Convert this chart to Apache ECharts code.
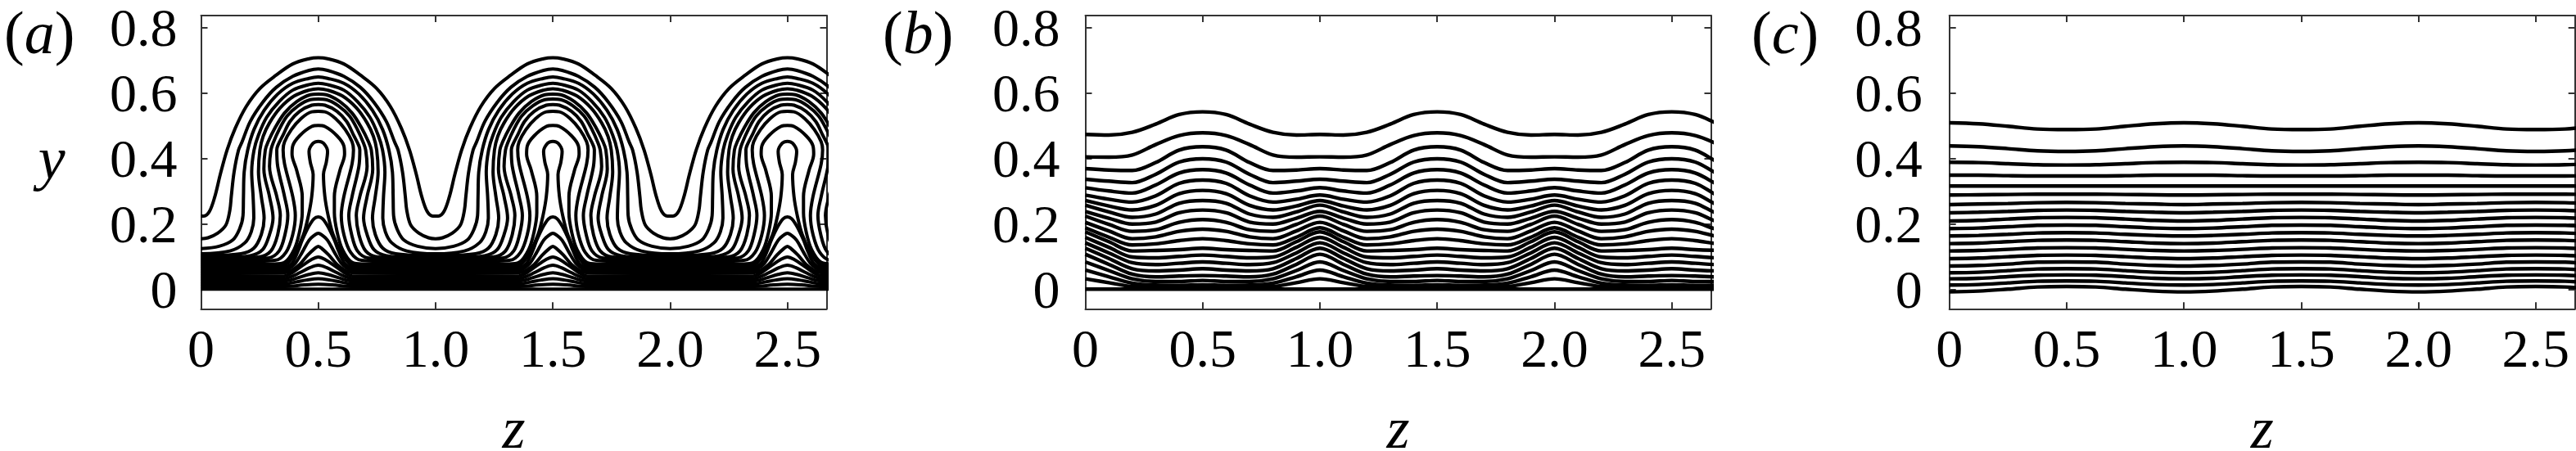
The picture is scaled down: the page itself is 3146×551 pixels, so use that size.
<!DOCTYPE html>
<html>
<head>
<meta charset="utf-8">
<script src="https://cdn.jsdelivr.net/npm/echarts@6/dist/echarts.min.js"></script>
<style>
  html, body { margin: 0; padding: 0; background: #fff; }
  #chart { width: 3146px; height: 551px; }
</style>
</head>
<body>
<div id="chart"></div>
<script>
const zTicks = [0, 0.5, 1, 1.5, 2, 2.5]
const yTicks = [0, 0.2, 0.4, 0.6, 0.8]
const panelNames = ['a', 'b', 'c']

// panel a: one half period, z from 0.5 to 1
const contoursA = [
  [[.5,.707],[.5395,.704],[.609,.688],[.679,.654],[.749,.613],[.807,.5583],[.854,.4917],[.889,.425],[.918,.35],[.941,.283],[.964,.2375],[.988,.2233],[1,.2233]],
  [[.5,.6725],[.5395,.6683],[.609,.65],[.679,.6167],[.737,.571],[.79,.5125],[.825,.45],[.84,.425],[.859,.358],[.871,.283],[.877,.2417],[.894,.196],[.929,.171],[.97,.157],[1,.154]],
  [[.5,.648],[.5395,.644],[.609,.629],[.673,.596],[.731,.546],[.774,.488],[.801,.425],[.816,.358],[.819,.283],[.821,.225],[.836,.1833],[.865,.15],[.923,.131],[1,.124]],
  [[.5,.629],[.5395,.625],[.609,.608],[.667,.573],[.72,.525],[.755,.471],[.774,.425],[.784,.358],[.778,.283],[.775,.217],[.786,.175],[.813,.1417],[.877,.1167],[1,.108]],
  [[.5,.612],[.5395,.608],[.603,.59],[.662,.554],[.708,.508],[.735,.467],[.749,.425],[.755,.358],[.743,.283],[.731,.217],[.743,.167],[.775,.125],[.83,.1083],[1,.1025]],
  [[.5,.596],[.534,.594],[.592,.573],[.644,.538],[.685,.492],[.714,.45],[.726,.425],[.732,.367],[.708,.283],[.693,.217],[.708,.167],[.737,.121],[.79,.102],[.865,.098],[1,.097]],
  [[.5,.581],[.534,.579],[.586,.56],[.633,.529],[.667,.4875],[.693,.446],[.702,.425],[.708,.375],[.677,.283],[.662,.225],[.673,.167],[.702,.1167],[.755,.098],[1,.0915]],
  [[.5,.564],[.528,.562],[.58,.543],[.621,.512],[.65,.471],[.673,.438],[.677,.425],[.673,.375],[.644,.283],[.63,.225],[.642,.167],[.667,.1167],[.714,.095],[1,.086]],
  [[.5,.543],[.528,.5417],[.574,.521],[.615,.4875],[.644,.45],[.65,.425],[.644,.383],[.609,.283],[.598,.225],[.609,.167],[.638,.1125],[.685,.088],[1,.0805]],
  [[.5,.5],[.528,.497],[.58,.4683],[.609,.4375],[.612,.4125],[.592,.3625],[.5685,.283],[.5685,.233],[.58,.175],[.603,.121],[.644,.082],[.691,.077],[1,.075]],
  [[.5,.4517],[.522,.446],[.5395,.421],[.534,.3875],[.522,.35],[.528,.283],[.542,.225],[.563,.167],[.598,.1125],[.638,.075],[.679,.07],[1,.0695]],
  [[.5,.2207],[.5185,.215],[.542,.19],[.5685,.15],[.586,.117],[.612,.079],[.638,.066],[.656,.064],[1,.064]],
  [[.5,.171],[.516,.165],[.539,.15],[.5685,.113],[.598,.079],[.627,.062],[.644,.057],[1,.056]],
  [[.5,.131],[.516,.1235],[.545,.104],[.58,.075],[.615,.057],[.644,.05],[1,.048]],
  [[.5,.098],[.53,.09],[.57,.071],[.61,.051],[.644,.041],[1,.04]],
  [[.5,.073],[.535,.066],[.58,.05],[.62,.037],[.65,.032],[1,.032]],
  [[.5,.05],[.54,.045],[.59,.034],[.63,.026],[.655,.024],[1,.024]],
  [[.5,.032],[.55,.028],[.6,.021],[.65,.016],[1,.016]],
  [[.5,.015],[.56,.013],[.62,.009],[.66,.008],[1,.008]],
  [[.5,0],[1,0]]
]

// panel b: y of each line at zSamplesB, half a period
const zSamplesB = [0, .1, .2, .3, .4, .5]
const linesB = [
  [.4725,.4708,.4792,.5042,.5333,.5417],
  [.4042,.4033,.41,.4417,.4692,.4775],
  [.3683,.364,.3625,.387,.425,.435],
  [.3358,.33,.3255,.351,.3883,.3983],
  [.31,.3,.2935,.3185,.355,.365],
  [.2875,.275,.266,.285,.3233,.3333],
  [.2708,.254,.242,.256,.2917,.3017],
  [.2567,.236,.2195,.2295,.2625,.2708],
  [.2375,.217,.199,.205,.2333,.2417],
  [.2233,.198,.1767,.1815,.2042,.2125],
  [.2042,.178,.1542,.16,.1767,.1833],
  [.1875,.159,.135,.1385,.1483,.1542],
  [.175,.145,.1167,.1183,.1208,.125],
  [.1583,.128,.0983,.0958,.1,.1042],
  [.1417,.111,.0808,.075,.0792,.0833],
  [.125,.094,.0625,.0558,.0583,.0625],
  [.1067,.076,.0458,.0375,.04,.0417],
  [.0833,.057,.0317,.0233,.0233,.0267],
  [.0583,.038,.0183,.0125,.0117,.0133],
  [.0317,.02,.0083,.0067,.0067,.0067],
  [0,0,0,0,0,0]
]

// panel c: y of each line at zSamplesC, half a period
const zSamplesC = [0, .125, .25, .375, .5]
const linesC = [
  [.5083,.505,.4975,.4892,.4875],
  [.4375,.435,.4292,.4225,.4208],
  [.3875,.3867,.3833,.38,.3792],
  [.3483,.3483,.3467,.3458,.3458],
  [.315,.315,.315,.315,.315],
  [.2875,.2883,.2892,.29,.29],
  [.2583,.26,.2617,.2642,.265],
  [.2333,.235,.2375,.2408,.2417],
  [.2083,.21,.2142,.2183,.2192],
  [.185,.1867,.1908,.195,.1958],
  [.1625,.1642,.1675,.1717,.1725],
  [.1392,.1408,.145,.1492,.15],
  [.1167,.1183,.1217,.1258,.1267],
  [.0933,.095,.0992,.1033,.1042],
  [.0708,.0725,.0767,.0825,.0833],
  [.05,.0517,.0567,.0617,.0625],
  [.0318,.0333,.0383,.0425,.0435],
  [.0125,.0142,.0192,.0242,.025],
  [-.0082,-.0058,0,.0067,.0083]
]

const FONT = '"Liberation Serif", "Times New Roman", serif'
const AXIS_COLOR = '#333'
const zMax = 2.667
const grids = [
  { left: 245.5, top: 19, width: 764, height: 358.3, outerBoundsMode: 'none' },
  { left: 1325.5, top: 19, width: 764, height: 358.3, outerBoundsMode: 'none' },
  { left: 2380.7, top: 19, width: 764, height: 358.3, outerBoundsMode: 'none' }
]
const labelSpots = [0, 1073, 2134]
const yLabelMargins = [29, 31, 33]
const strokeWidths = [4, 4.4, 4.4]

// the curves repeat: mirror the half period about z=0.5, then repeat it along z
const tile = (rightHalf) => {
  const left = rightHalf.slice(1).reverse().map(p => [1 - p[0], p[1]])
  const period = left.concat(rightHalf)
  let out = []
  for (let k = 0; k < 3; k++) {
    period.forEach((p, i) => {
      if (k > 0 && i === 0) return
      out.push([p[0] + k, p[1]])
    })
  }
  return out
}

const rowToRightHalf = (row, zs) => zs.map((z, i) => [1 - z, row[i]]).reverse()

const panelCurves = [
  contoursA,
  linesB.map(r => rowToRightHalf(r, zSamplesB)),
  linesC.map(r => rowToRightHalf(r, zSamplesC))
]

const series = []
panelCurves.forEach((curves, p) => {
  curves.forEach((c) => {
    series.push({
      type: 'line',
      xAxisIndex: p * 2,
      yAxisIndex: p * 2,
      data: tile(c),
      smooth: 0.35,
      showSymbol: false,
      silent: true,
      clip: true,
      lineStyle: { color: '#000', width: strokeWidths[p], cap: 'butt' }
    })
  })
})

const xAxis = []
const yAxis = []
panelNames.forEach((n, p) => {
  const line = { show: true, onZero: false, lineStyle: { color: AXIS_COLOR, width: 2 } }
  xAxis.push({
    gridIndex: p, type: 'value', position: 'bottom', min: 0, max: zMax,
    name: 'z', nameLocation: 'middle', nameGap: 115,
    nameTextStyle: { fontFamily: FONT, fontStyle: 'italic', fontSize: 72, color: '#000' },
    axisLine: line,
    axisTick: { inside: true, length: 8, customValues: zTicks, lineStyle: { color: AXIS_COLOR, width: 2 } },
    axisLabel: { customValues: zTicks, margin: 20, fontFamily: FONT, fontSize: 66, color: '#000',
      formatter: v => v === 0 ? '0' : v.toFixed(1) },
    splitLine: { show: false }
  })
  xAxis.push({
    gridIndex: p, type: 'value', position: 'top', min: 0, max: zMax,
    axisLine: line,
    axisTick: { inside: true, length: 8, customValues: zTicks, lineStyle: { color: AXIS_COLOR, width: 2 } },
    axisLabel: { show: false },
    splitLine: { show: false }
  })
  yAxis.push({
    gridIndex: p, type: 'value', position: 'left', min: -0.06, max: 0.8358,
    name: p === 0 ? 'y' : '', nameLocation: 'middle', nameGap: 166, nameRotate: 0,
    nameTextStyle: { fontFamily: FONT, fontStyle: 'italic', fontSize: 74, color: '#000' },
    axisLine: line,
    axisTick: { inside: true, length: 8, customValues: yTicks, lineStyle: { color: AXIS_COLOR, width: 2 } },
    axisLabel: { customValues: yTicks, margin: yLabelMargins[p], color: '#000',
      formatter: v => '{v|' + (v === 0 ? '0' : v.toFixed(1)) + '}',
      rich: { v: { fontFamily: FONT, fontSize: 66, color: '#000', padding: [10, 0, 0, 0] } } },
    splitLine: { show: false }
  })
  yAxis.push({
    gridIndex: p, type: 'value', position: 'right', min: -0.06, max: 0.8358,
    axisLine: line,
    axisTick: { inside: true, length: 8, customValues: yTicks, lineStyle: { color: AXIS_COLOR, width: 2 } },
    axisLabel: { show: false },
    splitLine: { show: false }
  })
})

const chart = echarts.init(document.getElementById('chart'), null, { renderer: 'canvas' })
chart.setOption({
  backgroundColor: '#fff',
  animation: false,
  title: panelNames.map((n, p) => ({
    text: '{p|(}{i|' + n + '}{p|)}',
    left: labelSpots[p],
    top: 4,
    textStyle: {
      fontWeight: 'normal',
      rich: {
        p: { fontFamily: FONT, fontWeight: 'normal', fontSize: 74, color: '#000' },
        i: { fontFamily: FONT, fontWeight: 'normal', fontStyle: 'italic', fontSize: 74, color: '#000' }
      }
    }
  })),
  grid: grids,
  xAxis: xAxis,
  yAxis: yAxis,
  series: series
})
</script>
</body>
</html>
